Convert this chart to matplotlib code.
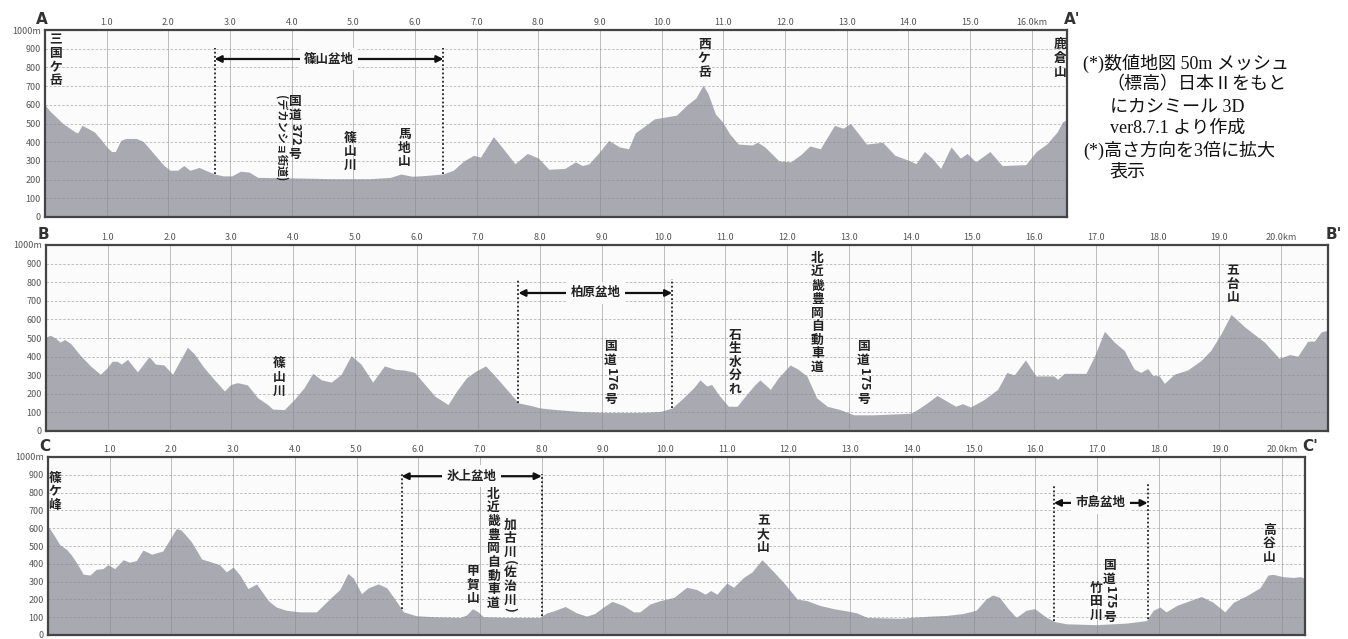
import numpy as np
import matplotlib
matplotlib.use('Agg')
import matplotlib.pyplot as plt

plt.rcParams['font.family'] = ['Noto Sans CJK JP', 'DejaVu Sans']

# ---- profile A-A' (distance km, elevation m) ----
a_km = [0, 0.07, 0.18, 0.29, 0.4, 0.49, 0.53, 0.6, 0.69, 0.8, 0.92, 1.0, 1.08, 1.14, 1.23,
        1.31, 1.48, 1.59, 1.76, 1.93, 2.03, 2.15, 2.25, 2.35, 2.5, 2.6, 2.75, 2.89, 3.03, 3.17,
        3.31, 3.45, 3.79, 4.24, 4.64, 5.0, 5.27, 5.6, 5.77, 5.95, 6.17, 6.45, 6.62, 6.79, 6.95,
        7.06, 7.27, 7.43, 7.62, 7.82, 8.0, 8.17, 8.43, 8.6, 8.71, 8.82, 8.97, 9.14, 9.31, 9.46,
        9.57, 9.74, 9.88, 10.07, 10.24, 10.41, 10.55, 10.67, 10.75, 10.87, 10.98, 11.1, 11.24,
        11.47, 11.55, 11.67, 11.9, 12.09, 12.26, 12.4, 12.57, 12.8, 12.94, 13.06, 13.32, 13.58,
        13.78, 14.03, 14.12, 14.26, 14.38, 14.52, 14.69, 14.84, 14.95, 15.09, 15.32, 15.52,
        15.9, 16.07, 16.24, 16.41, 16.5, 16.57]
a_m = [600, 570, 535, 500, 475, 455, 450, 490, 475, 455, 410, 375, 350, 350, 410,
       420, 420, 405, 340, 275, 250, 250, 275, 250, 265, 250, 230, 220, 220, 245,
       240, 212, 210, 208, 205, 205, 205, 212, 230, 218, 222, 230, 250, 300, 330,
       320, 430, 365, 285, 340, 315, 255, 260, 295, 275, 285, 340, 410, 375, 365,
       450, 490, 525, 535, 545, 600, 635, 705, 660, 550, 510, 445, 390,
       385, 400, 375, 300, 295, 335, 380, 365, 490, 475, 500, 390, 400,
       330, 300, 285, 350, 315, 260, 375, 315, 340, 295, 350, 275,
       280, 350, 390, 455, 510, 520]

# ---- profile B-B' ----
b_km = [0, 0.07, 0.15, 0.23, 0.3, 0.4, 0.56, 0.72, 0.88, 0.99, 1.07, 1.15, 1.22, 1.32, 1.48,
        1.67, 1.77, 1.91, 2.05, 2.18, 2.29, 2.4, 2.56, 2.72, 2.89, 2.99, 3.1, 3.26, 3.43, 3.59,
        3.67, 3.86, 4.02, 4.18, 4.32, 4.46, 4.62, 4.78, 4.94, 5.1, 5.29, 5.48, 5.65, 5.81, 5.97,
        6.11, 6.3, 6.51, 6.65, 6.81, 6.97, 7.12, 7.27, 7.46, 7.65, 7.84, 8.0, 8.27, 8.65, 9.08,
        9.62, 9.95, 10.14, 10.32, 10.49, 10.59, 10.7, 10.78, 10.89, 11.05, 11.19, 11.3, 11.46,
        11.56, 11.73, 11.86, 12.05, 12.18, 12.32, 12.48, 12.65, 12.86, 13.08, 13.4, 13.84, 14.0,
        14.11, 14.27, 14.43, 14.59, 14.73, 14.84, 14.97, 15.19, 15.41, 15.56, 15.68, 15.86,
        16.03, 16.32, 16.38, 16.49, 16.84, 16.97, 17.14, 17.3, 17.46, 17.62, 17.73, 17.84,
        17.92, 18.03, 18.11, 18.27, 18.49, 18.7, 18.86, 19.03, 19.19, 19.41, 19.73, 19.97,
        20.14, 20.27, 20.43, 20.54, 20.65, 20.76]
b_m = [505, 515, 500, 478, 492, 470, 405, 350, 305, 340, 375, 375, 360, 385, 318,
       400, 360, 355, 305, 385, 450, 415, 340, 278, 215, 250, 260, 248, 178, 142,
       118, 115, 170, 233, 310, 275, 263, 305, 405, 360, 263, 350, 332, 327, 315,
       260, 187, 142, 215, 287, 324, 350, 296, 224, 151, 138, 124, 115, 105, 100,
       100, 105, 124, 178, 233, 275, 242, 250, 196, 133, 133, 178, 242,
       275, 224, 287, 355, 332, 296, 178, 133, 115, 87, 87, 93, 96,
       115, 151, 191, 160, 133, 147, 129, 169, 224, 315, 302, 382,
       296, 296, 278, 310, 310, 396, 536, 478, 433, 333, 315, 336,
       300, 296, 256, 305, 329, 378, 433, 524, 627, 560, 478, 391,
       411, 402, 482, 484, 533, 542]

# ---- profile C-C' ----
c_km = [0, 0.08, 0.19, 0.3, 0.38, 0.49, 0.57, 0.68, 0.78, 0.89, 0.97, 1.08, 1.22, 1.32, 1.43,
        1.54, 1.68, 1.86, 1.97, 2.08, 2.16, 2.32, 2.49, 2.62, 2.78, 2.89, 3.0, 3.11, 3.24, 3.38,
        3.57, 3.7, 3.86, 4.08, 4.35, 4.43, 4.57, 4.73, 4.86, 4.95, 5.08, 5.19, 5.35, 5.49, 5.62,
        5.76, 5.97, 6.24, 6.68, 6.78, 6.88, 6.97, 7.05, 7.43, 7.97, 8.08, 8.19, 8.38, 8.57, 8.73,
        8.86, 9.0, 9.14, 9.32, 9.49, 9.59, 9.76, 9.92, 10.14, 10.35, 10.51, 10.65, 10.74, 10.84,
        11.0, 11.11, 11.27, 11.41, 11.57, 11.76, 11.95, 12.14, 12.3, 12.51, 12.73, 12.95, 13.11,
        13.27, 13.81, 14.0, 14.29, 14.56, 14.83, 15.04, 15.2, 15.31, 15.42, 15.56, 15.69, 15.85,
        15.99, 16.18, 16.31, 16.5, 16.99, 17.48, 17.8, 17.91, 18.02, 18.12, 18.29, 18.5, 18.69,
        18.88, 19.07, 19.21, 19.42, 19.64, 19.77, 19.85, 20.01, 20.18, 20.29, 20.37]
c_m = [611, 571, 508, 481, 449, 391, 342, 337, 369, 373, 395, 373, 423, 409, 418,
       477, 454, 472, 535, 598, 589, 526, 427, 413, 395, 355, 382, 337, 261, 287,
       193, 157, 139, 130, 130, 157, 205, 256, 346, 319, 232, 265, 287, 265, 202,
       130, 108, 103, 99, 112, 148, 130, 103, 99, 99, 124, 135, 160, 124, 106,
       121, 157, 189, 166, 130, 130, 175, 193, 211, 268, 256, 229, 250, 229,
       292, 268, 323, 355, 423, 355, 283, 202, 193, 166, 148, 135, 124,
       99, 94, 99, 106, 110, 121, 139, 202, 225, 211, 148, 99, 139,
       148, 99, 76, 63, 58, 67, 81, 139, 157, 130, 166, 193, 216,
       184, 130, 184, 220, 265, 337, 341, 328, 323, 328, 319]

# ---- place names (text, km, top of text in m) ----
a_names = ['三国ケ岳', '国道372号', '篠山川', '馬地山', '西ケ岳', '鹿倉山']
a_name_km = [0.17, 4.05, 4.95, 5.83, 10.69, 16.46]
a_name_top = [980, 650, 457, 475, 955, 955]
a_side_name = '(デカンショ街道)'
a_side_km = 3.82
a_side_top = 650

b_names = ['篠山川', '国道176号', '石生水分れ', '北近畿豊岡自動車道', '国道175号', '五台山']
b_name_km = [3.78, 9.14, 11.16, 12.49, 13.24, 19.22]
b_name_top = [396, 487, 550, 960, 487, 896]

c_names = ['篠ケ峰', '甲賀山', '北近畿豊岡自動車道', '加古川（佐治川）', '五大山', '竹田川', '国道175号', '高谷山']
c_name_km = [0.11, 6.89, 7.22, 7.49, 11.59, 16.99, 17.2, 19.79]
c_name_top = [917, 391, 825, 652, 679, 300, 427, 625]

# ---- basins (name, start km, end km, top of dotted line, arrow height) ----
a_basins = ['篠山盆地']
a_basin_start = [2.75]
a_basin_end = [6.46]
a_basin_top = [905]
a_basin_arrow = [845]

b_basins = ['柏原盆地']
b_basin_start = [7.65]
b_basin_end = [10.14]
b_basin_top = [815]
b_basin_arrow = [742]

c_basins = ['氷上盆地', '市島盆地']
c_basin_start = [5.73, 16.3]
c_basin_end = [8.0, 17.82]
c_basin_top = [905, 850]
c_basin_arrow = [892, 742]

note_lines = ['(*)数値地図 50m メッシュ', '（標高）日本Ⅱをもと', 'にカシミール 3D',
              'ver8.7.1 より作成', '(*)高さ方向を3倍に拡大', '表示']

W, H = 1348, 639
FILL = '#a9a9b2'
FACE = '#fbfbfb'


def vertical_label(ax, km, top, text, size=9.2):
    # stack CJK chars downwards; latin runs (digits, parens) are turned sideways
    runs = []
    for ch in text:
        latin = ord(ch) < 128 or ch in '（）'
        ch = {'（': '(', '）': ')'}.get(ch, ch)
        if latin and runs and runs[-1][1]:
            runs[-1][0] += ch
        else:
            runs.append([ch, latin])
    off = 0.0
    for run, latin in runs:
        if latin:
            ax.annotate(run, (km, top), xytext=(0, -off), textcoords='offset points',
                        rotation=-90, ha='center', va='top', fontsize=size,
                        fontweight='bold', color='#222')
            off += sum(0.42 if c in '()' else 0.62 for c in run) * size + 1
        else:
            ax.annotate(run, (km, top), xytext=(0, -off), textcoords='offset points',
                        ha='center', va='top', fontsize=size, fontweight='bold', color='#222')
            off += size * 1.06


def basin(ax, km, m, name, x0, x1, top, arrow_y):
    for x in (x0, x1):
        ax.plot([x, x], [np.interp(x, km, m), top], ls=(0, (1, 1.3)), color='#222', lw=1.3)
    ax.annotate('', xy=(x1, arrow_y), xytext=(x0, arrow_y),
                arrowprops=dict(arrowstyle='<|-|>', color='#111', lw=1.6,
                                shrinkA=0, shrinkB=0, mutation_scale=10))
    ax.text((x0 + x1) / 2, arrow_y, name, ha='center', va='center', fontsize=9,
            fontweight='bold', color='#222',
            bbox=dict(boxstyle='square,pad=0.35', fc=FACE, ec='none'))


def profile(box, km, m, letter):
    l, t, r, b = box
    ax = fig.add_axes([l / W, 1 - b / H, (r - l) / W, (b - t) / H])
    ax.set_facecolor(FACE)
    ax.fill_between(km, 0, m, color=FILL, lw=0)
    ax.set_xlim(km[0], km[-1])
    ax.set_ylim(0, 1000)
    n = int(km[-1])
    ax.set_xticks(range(1, n + 1))
    ax.set_xticklabels([f'{k}.0' for k in range(1, n)] + [f'{n}.0km'])
    ax.set_yticks(range(0, 1001, 100))
    ax.set_yticklabels([str(v) for v in range(0, 1000, 100)] + ['1000m'])
    ax.xaxis.tick_top()
    ax.tick_params(length=0, labelsize=6.5, colors='#555', pad=2.5)
    ax.tick_params(axis='y', pad=3)
    ax.grid(axis='x', color='#8a8a8a', lw=0.7, alpha=0.55)
    ax.grid(axis='y', color='#8a8a8a', lw=0.6, alpha=0.6, ls=(0, (3, 2)))
    for s in ax.spines.values():
        s.set_color('#444')
        s.set_linewidth(1.6)
    ax.annotate(letter, (0, 1), xycoords='axes fraction', xytext=(-2, 2),
                textcoords='offset points', ha='center', va='bottom', fontsize=11,
                fontweight='bold', color='#333', family='DejaVu Sans')
    ax.annotate(letter + "'", (1, 1), xycoords='axes fraction', xytext=(4, 2),
                textcoords='offset points', ha='center', va='bottom', fontsize=11,
                fontweight='bold', color='#333', family='DejaVu Sans')
    return ax


fig = plt.figure(figsize=(W / 100, H / 100), dpi=100)

ax_a = profile((45, 30, 1067, 217), a_km, a_m, 'A')
for name, x, top in zip(a_names, a_name_km, a_name_top):
    vertical_label(ax_a, x, top, name)
ax_a.annotate(a_side_name, (a_side_km, a_side_top), rotation=-90, ha='center', va='top',
              fontsize=8, fontweight='bold', color='#222')
for i in range(len(a_basins)):
    basin(ax_a, a_km, a_m, a_basins[i], a_basin_start[i], a_basin_end[i],
          a_basin_top[i], a_basin_arrow[i])

ax_b = profile((46, 245, 1328, 431), b_km, b_m, 'B')
for name, x, top in zip(b_names, b_name_km, b_name_top):
    vertical_label(ax_b, x, top, name)
for i in range(len(b_basins)):
    basin(ax_b, b_km, b_m, b_basins[i], b_basin_start[i], b_basin_end[i],
          b_basin_top[i], b_basin_arrow[i])

# bottom profile runs to the lower edge of the picture
ax_c = profile((48, 457, 1305, 635), c_km, c_m, 'C')
for name, x, top in zip(c_names, c_name_km, c_name_top):
    vertical_label(ax_c, x, top, name)
for i in range(len(c_basins)):
    basin(ax_c, c_km, c_m, c_basins[i], c_basin_start[i], c_basin_end[i],
          c_basin_top[i], c_basin_arrow[i])

# source note to the right of the first profile
note_x = [1083, 1106, 1110, 1110, 1083, 1110]
for i, line in enumerate(note_lines):
    fig.text(note_x[i] / W, 1 - (63 + 21.8 * i) / H, line, ha='left', va='center',
             fontsize=13, color='#111', family=['Liberation Serif', 'Noto Sans CJK JP'])

fig.savefig('out.png', dpi=100, facecolor='white')
